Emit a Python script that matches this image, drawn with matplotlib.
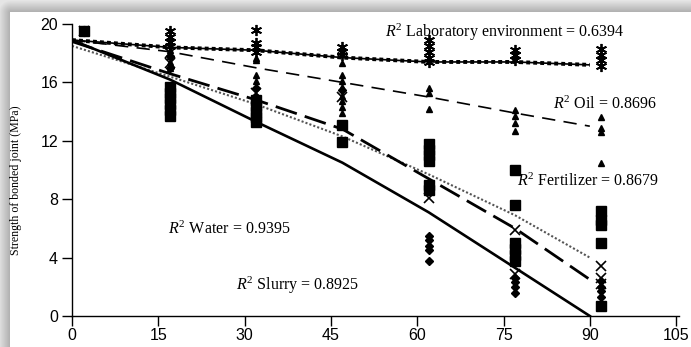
import numpy as np
import matplotlib
matplotlib.use("Agg")
import matplotlib.pyplot as plt

# ---------------- data ----------------
days = [2, 17, 32, 47, 62, 77, 92]

lab_x = [2, 17, 17, 17, 17, 32, 32, 32, 32, 47, 47, 47, 62, 62, 62, 62, 62, 77, 77, 77, 92, 92, 92, 92]
lab_y = [19.5, 19.5, 19.1, 18.8, 18.5, 19.6, 18.7, 18.4, 18.1, 18.4, 18.1, 17.9,
         18.9, 18.5, 18.1, 17.7, 17.4, 18.2, 17.9, 17.5, 18.3, 17.9, 17.5, 17.1]

oil_x = [2, 17, 17, 17, 17, 32, 32, 32, 32, 47, 47, 47, 47, 47, 47, 47, 47,
         62, 62, 62, 77, 77, 77, 77, 92, 92, 92, 92]
oil_y = [19.5, 18.2, 17.8, 17.4, 17.0, 17.7, 17.5, 16.5, 16.1,
         17.3, 16.5, 16.1, 15.7, 15.1, 14.7, 14.3, 13.9,
         15.6, 15.3, 14.2, 14.1, 13.7, 13.2, 12.7, 13.6, 12.9, 12.6, 10.5]

fert_x = [2, 17, 17, 17, 17, 17, 17, 32, 32, 32, 32, 32, 47, 47,
          62, 62, 62, 62, 62, 62, 77, 77, 77, 77, 77, 77, 92, 92, 92, 92, 92]
fert_y = [19.5, 15.7, 15.3, 14.9, 14.5, 14.1, 13.7, 14.8, 14.4, 14.0, 13.6, 13.3, 13.1, 11.9,
          11.8, 11.4, 11.0, 10.6, 9.0, 8.6, 10.0, 7.6, 5.0, 4.6, 4.2, 3.8,
          7.2, 6.6, 6.2, 5.0, 0.7]

water_x = [2, 17, 17, 32, 47, 62, 77, 77, 92, 92, 92]
water_y = [19.5, 18.0, 17.3, 15.3, 15.0, 8.1, 5.9, 2.9, 3.4, 2.6, 2.2]

slurry_x = [2, 17, 17, 32, 32, 47, 62, 62, 62, 62, 62, 77, 77, 77, 77, 92, 92, 92, 92]
slurry_y = [19.5, 17.8, 17.0, 15.6, 15.0, 15.5, 5.5, 5.2, 4.8, 4.5, 3.8,
            2.6, 2.3, 2.0, 1.6, 2.4, 2.0, 1.7, 1.3]

# trend lines
trend_x = [0, 17, 32, 47, 62, 77, 90]
lab_fit = [18.9, 18.4, 18.2, 17.7, 17.4, 17.4, 17.2]
oil_fit = [18.9, 18.1, 17.0, 16.0, 15.0, 13.9, 13.0]
fert_fit = [18.5, 16.4, 14.5, 12.3, 9.7, 6.9, 4.0]
water_fit = [18.8, 16.6, 14.8, 12.8, 9.4, 6.0, 2.5]
slurry_fit = [18.9, 16.2, 13.3, 10.5, 7.1, 3.3, 0.0]

x_ticks = [0, 15, 30, 45, 60, 75, 90, 105]
y_ticks = [0, 4, 8, 12, 16, 20]

labels = ["$R^2$ Laboratory environment = 0.6394", "$R^2$ Oil = 0.8696",
          "$R^2$ Fertilizer = 0.8679", "$R^2$ Water = 0.9395", "$R^2$ Slurry = 0.8925"]
label_pos = [(54.4, 19.4), (83.6, 14.5), (77.4, 9.25), (16.7, 5.96), (28.5, 2.1)]

# ---------------- style ----------------
plt.rcParams['mathtext.fontset'] = 'custom'
plt.rcParams['mathtext.rm'] = 'Liberation Serif'
plt.rcParams['mathtext.it'] = 'Liberation Serif:italic'

W, H = 691, 347
fig = plt.figure(figsize=(W / 100, H / 100), dpi=100)
fig.patch.set_facecolor('white')

# shadow frame (top and left gray blurred band)
img = np.ones((H, W, 3))
yy, xx = np.mgrid[0:H, 0:W]
px0, py0 = 10, 12
dx = np.clip(px0 - xx, 0, None)
dy = np.clip(py0 - yy, 0, None)
inside = (xx >= px0) & (yy >= py0)
d = np.sqrt(dx ** 2 + dy ** 2)
shade = 0.68 + 0.22 * np.clip(d / 12.0, 0, 1)
g = np.where(inside, 1.0, shade)
img[..., 0] = g
img[..., 1] = g
img[..., 2] = g
fig.figimage(img, xo=0, yo=0, origin='upper', zorder=0)

ax = fig.add_axes([72 / W, 1 - 316 / H, (679 - 72) / W, (316 - 24) / H])
ax.set_facecolor('none')
ax.set_zorder(2)

# trend lines
ax.plot(trend_x, lab_fit, color='black', lw=1.2, solid_capstyle='butt')
ax.plot(trend_x, lab_fit, color='black', lw=2.8, linestyle=(0, (1, 0.8)))
ax.plot(trend_x, oil_fit, color='black', lw=1.2, linestyle=(0, (8, 5)))
ax.plot(trend_x, fert_fit, color='#555555', lw=1.5, linestyle=(0, (1, 1)))
ax.plot(trend_x, water_fit, color='black', lw=2.0, linestyle=(0, (8, 3)))
ax.plot(trend_x, slurry_fit, color='black', lw=1.9)

# scatter points
ax.plot(fert_x, fert_y, 's', color='black', ms=6.5, clip_on=False)
ax.plot(oil_x, oil_y, '^', color='black', ms=5, clip_on=False)
ax.plot(slurry_x, slurry_y, 'D', color='black', ms=4, clip_on=False)
ax.plot(water_x, water_y, 'x', color='black', ms=7, mew=1.2, clip_on=False)
ax.plot(lab_x, lab_y, marker=(6, 2, 0), linestyle='none', color='black', ms=8, mew=1.3, clip_on=False)

for txt, (tx, ty) in zip(labels, label_pos):
    ax.text(tx, ty, txt, fontsize=11.5, family='Liberation Serif', ha='left', va='center')

ax.set_xlim(0, 105.5)
ax.set_ylim(0, 20)
ax.set_xticks(x_ticks)
ax.set_yticks(y_ticks)
for s in ['top', 'right']:
    ax.spines[s].set_visible(False)
for s in ['left', 'bottom']:
    ax.spines[s].set_linewidth(1.0)
ax.spines['left'].set_bounds(0, 20)
ax.tick_params(axis='both', direction='out', length=7, width=1.0, labelsize=11.5)
ax.tick_params(axis='x', pad=2)
ax.tick_params(axis='y', pad=3)
for lab in ax.get_xticklabels() + ax.get_yticklabels():
    lab.set_family('Liberation Sans')

ax.set_ylabel("Strength of bonded joint (MPa)", family='Liberation Serif', fontsize=8.6)
ax.yaxis.set_label_coords(-0.083, 0.466)

fig.savefig("out.png", dpi=100)
